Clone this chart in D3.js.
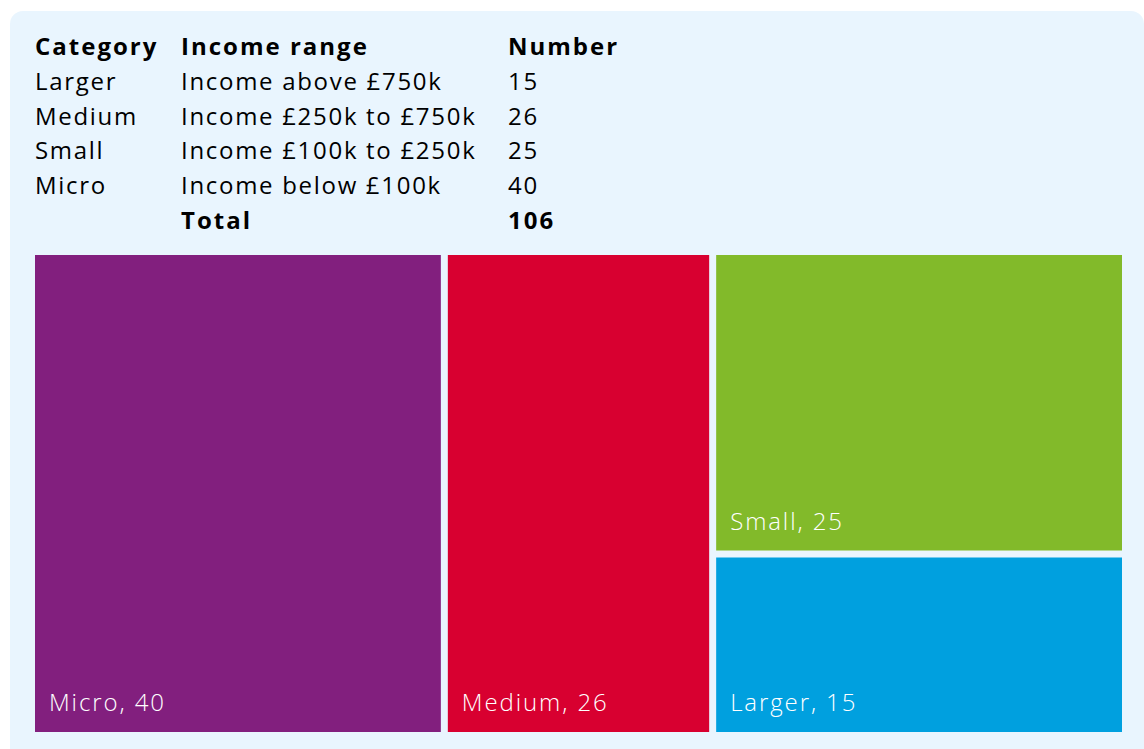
<!DOCTYPE html>
<html>
<head>
<meta charset="utf-8">
<script src="https://cdn.jsdelivr.net/npm/d3@7"></script>
<style>
  body { margin: 0; background: #fff; }
  svg text { font-family: "Open Sans", Lato, sans-serif; }
</style>
</head>
<body>
<div id="chart"></div>
<script>
// data
var categories = ["Larger", "Medium", "Small", "Micro"];
var incomeRanges = ["Income above £750k", "Income £250k to £750k", "Income £100k to £250k", "Income below £100k"];
var numbers = [15, 26, 25, 40];
var headers = ["Category", "Income range", "Number"];
var colours = ["#00a0df", "#d80030", "#82ba2a", "#821f7e"];

var width = 1144,
    height = 749;

var svg = d3.select("#chart").append("svg")
  .attr("width", width)
  .attr("height", height);

// light blue panel
svg.append("rect")
  .attr("x", 10)
  .attr("y", 11)
  .attr("width", width - 10)
  .attr("height", height + 20)
  .attr("rx", 13)
  .style("fill", "#e9f5fe");

// table at the top
var colX = [35, 181, 508],
    rowY = d3.scaleLinear().domain([0, 1]).range([55, 89.8]);

var table = svg.append("g")
  .style("font-size", "24px")
  .style("fill", "#000");

table.selectAll("text.head")
  .data(headers)
  .enter()
  .append("text")
  .attr("class", "head")
  .attr("x", function(d, i){ return colX[i]; })
  .attr("y", rowY(0))
  .style("font-weight", "bold")
  .style("letter-spacing", "2px")
  .text(function(d){ return d; });

var rows = categories.map(function(c, i){
  return [c, incomeRanges[i], numbers[i]];
});

rows.forEach(function(r, j){
  table.selectAll("text.row" + j)
    .data(r)
    .enter()
    .append("text")
    .attr("x", function(d, i){ return colX[i]; })
    .attr("y", rowY(j + 1))
    .style("font-weight", 400)
    .style("letter-spacing", "1.7px")
    .text(function(d){ return d; });
});

var total = d3.sum(numbers);
table.append("text")
  .attr("x", colX[1])
  .attr("y", rowY(5))
  .style("font-weight", "bold")
  .style("letter-spacing", "2px")
  .text("Total");
table.append("text")
  .attr("x", colX[2])
  .attr("y", rowY(5))
  .style("font-weight", "bold")
  .style("letter-spacing", "2px")
  .text(total);

// treemap
var tm = {left: 35, top: 255, right: 1122, bottom: 732};

var root = d3.hierarchy({
    children: categories.map(function(c, i){
      return {name: c, value: numbers[i], colour: colours[i]};
    })
  })
  .sum(function(d){ return d.value || 0; })
  .sort(function(a, b){ return b.value - a.value; });

d3.treemap()
  .tile(d3.treemapSquarify.ratio(1))
  .size([tm.right - tm.left, tm.bottom - tm.top])
  .paddingInner(7)
  (root);

var cells = svg.append("g")
  .attr("transform", "translate(" + tm.left + "," + tm.top + ")")
  .selectAll("g")
  .data(root.leaves())
  .enter()
  .append("g");

cells.append("rect")
  .attr("x", function(d){ return d.x0; })
  .attr("y", function(d){ return d.y0; })
  .attr("width", function(d){ return d.x1 - d.x0; })
  .attr("height", function(d){ return d.y1 - d.y0; })
  .style("fill", function(d){ return d.data.colour; });

cells.append("text")
  .attr("x", function(d){ return d.x0 + 14; })
  .attr("y", function(d){ return d.y1 - 21; })
  .style("fill", "#fff")
  .style("font-size", "24px")
  .style("font-weight", 300)
  .style("letter-spacing", "1.9px")
  .text(function(d){ return d.data.name + ", " + d.data.value; });
</script>
</body>
</html>
